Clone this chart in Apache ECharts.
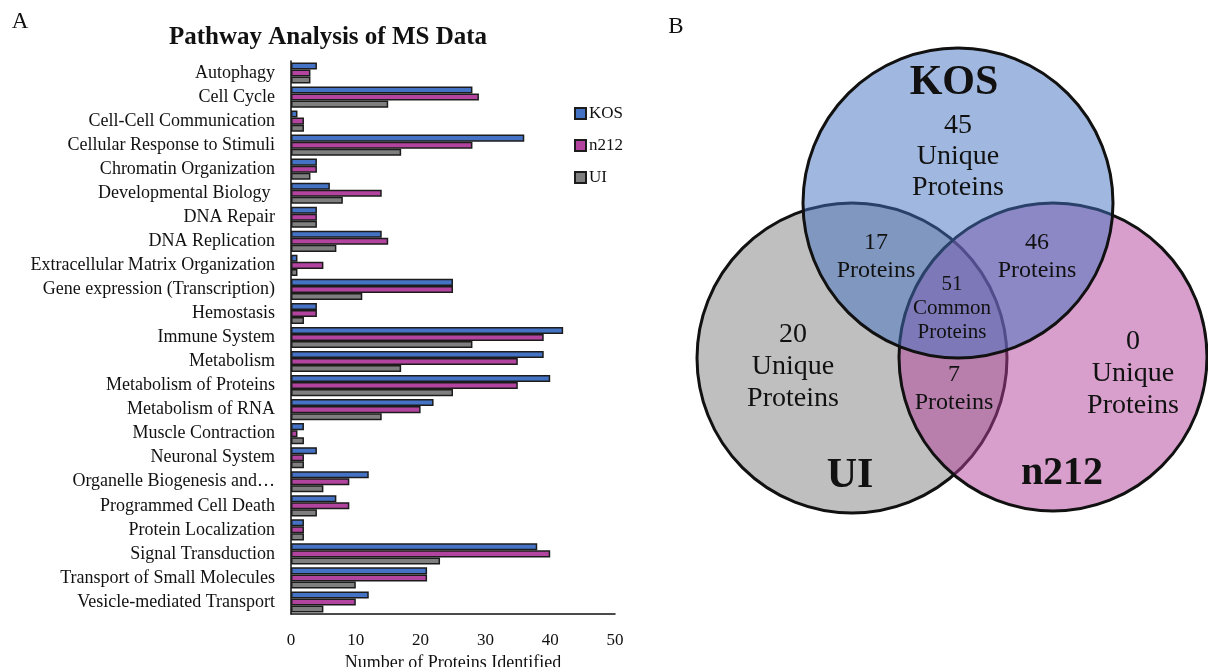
<!DOCTYPE html>
<html>
<head>
<meta charset="utf-8">
<style>
html, body { margin: 0; padding: 0; background: #fff; }
#main { width: 1208px; height: 667px; }
</style>
<script src="https://cdn.jsdelivr.net/npm/echarts@6/dist/echarts.min.js"></script>
</head>
<body>
<div id="main"></div>
<script>
// pathway categories (top to bottom)
const categories = [
  'Autophagy', 'Cell Cycle', 'Cell-Cell Communication', 'Cellular Response to Stimuli',
  'Chromatin Organization', 'Developmental Biology ', 'DNA Repair', 'DNA Replication',
  'Extracellular Matrix Organization', 'Gene expression (Transcription)', 'Hemostasis',
  'Immune System', 'Metabolism', 'Metabolism of Proteins', 'Metabolism of RNA',
  'Muscle Contraction', 'Neuronal System', 'Organelle Biogenesis and\u2026',
  'Programmed Cell Death', 'Protein Localization', 'Signal Transduction',
  'Transport of Small Molecules', 'Vesicle-mediated Transport'
]
const kos  = [4, 28, 1, 36, 4, 6, 4, 14, 1, 25, 4, 42, 39, 40, 22, 2, 4, 12, 7, 2, 38, 21, 12]
const n212 = [3, 29, 2, 28, 4, 14, 4, 15, 5, 25, 4, 39, 35, 35, 20, 1, 2, 9, 9, 2, 40, 21, 10]
const ui   = [3, 15, 2, 17, 3, 8, 4, 7, 1, 11, 2, 28, 17, 25, 14, 2, 2, 5, 4, 2, 23, 10, 5]
const xTicks = [0, 10, 20, 30, 40, 50]

// venn counts: KOS only, KOS+UI, KOS+n212, all three, UI only, UI+n212, n212 only
const vennCounts = [45, 17, 46, 51, 20, 7, 0]
const vennSets = ['KOS', 'UI', 'n212']

const serif = "'Palatino Linotype', 'Book Antiqua', Palatino, 'Liberation Serif', serif"
const black = '#111'

let myChart = echarts.init(document.getElementById('main'))

// venn circles (drawn UI first, then n212, KOS on top)
const circles = [
  { cx: 852, cy: 358, r: 155, fill: 'rgba(191,191,191,1)' },
  { cx: 1053, cy: 357, r: 154, fill: 'rgba(177,63,153,0.5)' },
  { cx: 958, cy: 203, r: 155, fill: 'rgba(65,113,193,0.5)' }
]
const graphics = circles.map(c => ({
  type: 'circle',
  shape: { cx: c.cx, cy: c.cy, r: c.r },
  style: { fill: c.fill, stroke: black, lineWidth: 3 }
}))

function txt (x, y, text, size, bold) {
  return {
    type: 'text',
    x: x, y: y,
    style: {
      text: text,
      font: (bold ? 'bold ' : '') + size + 'px ' + serif,
      fill: black,
      align: 'center',
      verticalAlign: 'middle'
    },
    z: 10
  }
}
function block (x, y, lines, size, gap) {
  return lines.map((l, i) => txt(x, y + i * gap, l, size))
}

graphics.push(
  txt(20, 22, 'A', 23),
  txt(676, 27, 'B', 23),
  txt(954, 83, vennSets[0], 42, true),
  txt(850, 476, vennSets[1], 42, true),
  txt(1062, 474, vennSets[2], 40, true),
  ...block(958, 126, [String(vennCounts[0]), 'Unique', 'Proteins'], 28, 31),
  ...block(876, 243, [String(vennCounts[1]), 'Proteins'], 24, 28),
  ...block(1037, 243, [String(vennCounts[2]), 'Proteins'], 24, 28),
  ...block(952, 284, [String(vennCounts[3]), 'Common', 'Proteins'], 21, 24),
  ...block(793, 335, [String(vennCounts[4]), 'Unique', 'Proteins'], 28, 32),
  ...block(954, 375, [String(vennCounts[5]), 'Proteins'], 24, 28),
  ...block(1133, 342, [String(vennCounts[6]), 'Unique', 'Proteins'], 28, 32)
)

const barStyle = (color) => ({
  color: color,
  borderColor: '#1c1c1c',
  borderWidth: 1.5
})

myChart.setOption({
  animation: false,
  title: {
    text: 'Pathway Analysis of MS Data',
    left: 323,
    top: 20,
    textAlign: 'center',
    textStyle: { fontFamily: serif, fontSize: 25, fontWeight: 'bold', color: black }
  },
  grid: {
    left: 291,
    right: 593,
    top: 61,
    bottom: 53,
    containLabel: false,
    outerBoundsMode: 'none'
  },
  legend: {
    orient: 'vertical',
    left: 569,
    top: 100,
    itemWidth: 11,
    itemHeight: 11,
    itemGap: 15,
    icon: 'rect',
    textStyle: { fontFamily: serif, fontSize: 17, color: black, padding: [0, 0, 0, -2] },
    data: ['KOS', 'n212', 'UI']
  },
  xAxis: {
    type: 'value',
    min: 0,
    max: 50,
    interval: 10,
    name: 'Number of Proteins Identified',
    nameLocation: 'middle',
    nameGap: 37,
    nameTextStyle: { fontFamily: serif, fontSize: 18, color: black },
    splitLine: { show: false },
    axisTick: { show: false },
    axisLine: { show: true, lineStyle: { color: black, width: 1.5 } },
    axisLabel: {
      margin: 18,
      fontFamily: serif,
      fontSize: 17,
      color: black,
      formatter: v => xTicks.includes(v) ? String(v) : ''
    }
  },
  yAxis: {
    type: 'category',
    inverse: true,
    data: categories,
    axisTick: { show: false },
    axisLine: { show: true, lineStyle: { color: black, width: 1.5 } },
    axisLabel: {
      margin: 16,
      fontFamily: serif,
      fontSize: 18,
      color: black,
      interval: 0
    }
  },
  series: [
    {
      name: 'KOS',
      type: 'bar',
      barGap: '0%',
      barCategoryGap: '12%',
      itemStyle: barStyle('#4472c4'),
      data: kos
    },
    {
      name: 'n212',
      type: 'bar',
      barGap: '0%',
      barCategoryGap: '12%',
      itemStyle: barStyle('#b2449f'),
      data: n212
    },
    {
      name: 'UI',
      type: 'bar',
      barGap: '0%',
      barCategoryGap: '12%',
      itemStyle: barStyle('#7f7f7f'),
      data: ui
    }
  ],
  graphic: graphics
})
</script>
</body>
</html>
